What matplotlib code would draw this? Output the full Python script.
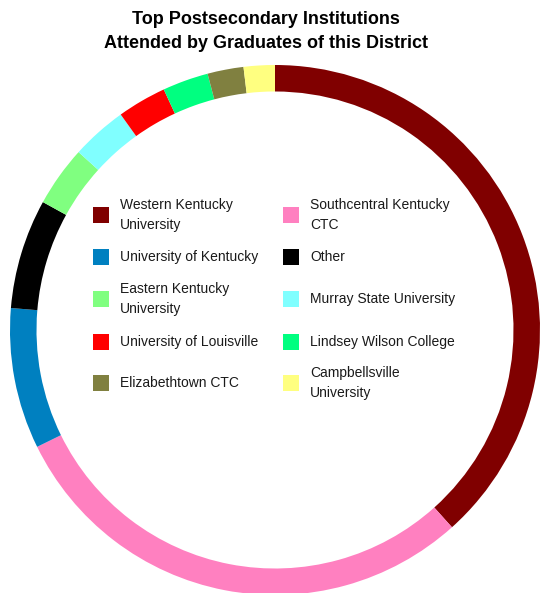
import matplotlib.pyplot as plt
from matplotlib.patches import Rectangle

plt.rcParams['font.family'] = ['Liberation Sans', 'DejaVu Sans']

labels = ["Western Kentucky\nUniversity", "Southcentral Kentucky\nCTC",
          "University of Kentucky", "Other",
          "Eastern Kentucky\nUniversity", "Murray State University",
          "University of Louisville", "Lindsey Wilson College",
          "Elizabethtown CTC", "Campbellsville\nUniversity"]
shares = [38.4, 29.4, 8.6, 6.7, 3.7, 3.4, 3.0, 2.8, 2.2, 1.9]
colors = ["#800000", "#ff80c0", "#0080c0", "#000000", "#80ff80",
          "#80ffff", "#ff0000", "#00ff80", "#808040", "#ffff80"]

W, H = 540, 593
fig = plt.figure(figsize=(W / 100, H / 100), dpi=100)

# donut: center (275, 330) px, radius 265 px
cx, cy, r = 275, 330, 265
ax = fig.add_axes([(cx - r) / W, (H - cy - r) / H, 2 * r / W, 2 * r / H])
ax.pie(shares, colors=colors, startangle=90, counterclock=False, radius=1,
       wedgeprops=dict(width=0.1, linewidth=0))
ax.set_xlim(-1, 1)
ax.set_ylim(-1, 1)
ax.set_aspect('equal')
ax.axis('off')

# title
fig.text(266 / W, 1 - 19 / H, "Top Postsecondary Institutions", ha='center', va='center',
         fontsize=13, fontweight='bold')
fig.text(266 / W, 1 - 44 / H, "Attended by Graduates of this District", ha='center', va='center',
         fontsize=13, fontweight='bold')

# legend laid out row by row, two columns
row_y = [215, 257, 299, 342, 383]
box_x = [93, 283]
text_x = [120, 310]
for i, (lab, col) in enumerate(zip(labels, colors)):
    row, c = divmod(i, 2)
    y = row_y[row]
    fig.patches.append(Rectangle((box_x[c] / W, 1 - (y + 8) / H), 16 / W, 16 / H,
                                 transform=fig.transFigure, facecolor=col, edgecolor='none'))
    fig.text(text_x[c] / W, 1 - y / H, lab, ha='left', va='center', fontsize=10,
             color='#1a1a1a', linespacing=1.55)

fig.savefig("out.png", dpi=100)
